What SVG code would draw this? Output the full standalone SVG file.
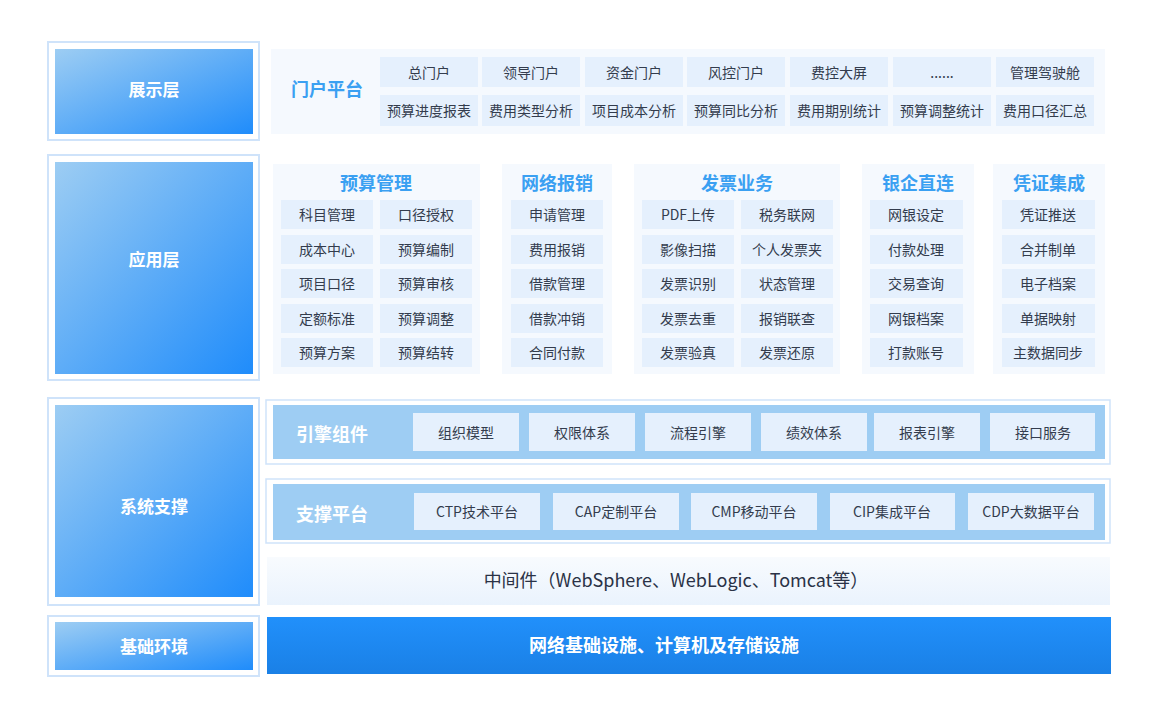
<svg xmlns="http://www.w3.org/2000/svg" width="1162" height="720" viewBox="0 0 1162 720">
<style>
text{font-family:"Noto Sans CJK SC","Noto Sans",sans-serif;text-anchor:middle;dominant-baseline:central}
.frame{fill:#fff;stroke:#cfe3fa;stroke-width:2}
.lbl{fill:url(#lg)}
.lt{fill:#fff;font-size:17px;font-weight:bold}
.panel{fill:#f5f9fe}
.c{fill:#e5f0fd}
.ct{fill:#333c4d;font-size:14px}
.h{fill:#3aa0f2;font-size:18px;font-weight:bold}
.band{fill:#9ecdf3}
.bt{fill:#fff;font-size:18px;font-weight:bold}
.oframe{fill:#fff;stroke:#cfe3fa;stroke-width:1.5}
</style>
<defs>
<linearGradient id="lg" x1="0" y1="0" x2="1" y2="1"><stop offset="0" stop-color="#9dcdf3"/><stop offset="1" stop-color="#1f8cfb"/></linearGradient>
<linearGradient id="mid" x1="0" y1="0" x2="0" y2="1"><stop offset="0" stop-color="#f8fbfe"/><stop offset="1" stop-color="#eaf3fd"/></linearGradient>
<linearGradient id="inf" x1="0" y1="0" x2="0" y2="1"><stop offset="0" stop-color="#2190fb"/><stop offset="1" stop-color="#1a80e6"/></linearGradient>
</defs>
<rect width="1162" height="720" fill="#fff"/>
<g id="layer-labels">
<rect class="frame" x="48" y="42" width="211" height="98"/><rect class="lbl" x="55" y="49" width="198" height="85"/><text class="lt" x="154" y="88">展示层</text>
<rect class="frame" x="48" y="155" width="211" height="225"/><rect class="lbl" x="55" y="162" width="198" height="212"/><text class="lt" x="154" y="258">应用层</text>
<rect class="frame" x="48" y="398" width="211" height="207"/><rect class="lbl" x="55" y="405" width="198" height="192"/><text class="lt" x="154" y="505">系统支撑</text>
<rect class="frame" x="48" y="616" width="211" height="60"/><rect class="lbl" x="55" y="622" width="198" height="48"/><text class="lt" x="154" y="645">基础环境</text>
</g>
<g id="portal">
<rect class="panel" x="271" y="49" width="834" height="85"/>
<text class="h" x="327" y="88">门户平台</text>
<g>
<rect class="c" x="380" y="57" width="98" height="30"/><text class="ct" x="429" y="72">总门户</text>
<rect class="c" x="482" y="57" width="98" height="30"/><text class="ct" x="531" y="72">领导门户</text>
<rect class="c" x="585" y="57" width="98" height="30"/><text class="ct" x="634" y="72">资金门户</text>
<rect class="c" x="687" y="57" width="98" height="30"/><text class="ct" x="736" y="72">风控门户</text>
<rect class="c" x="790" y="57" width="98" height="30"/><text class="ct" x="839" y="72">费控大屏</text>
<rect class="c" x="893" y="57" width="98" height="30"/><text class="ct" x="942" y="72">......</text>
<rect class="c" x="996" y="57" width="98" height="30"/><text class="ct" x="1045" y="72">管理驾驶舱</text>
<rect class="c" x="380" y="95" width="98" height="31"/><text class="ct" x="429" y="110">预算进度报表</text>
<rect class="c" x="482" y="95" width="98" height="31"/><text class="ct" x="531" y="110">费用类型分析</text>
<rect class="c" x="585" y="95" width="98" height="31"/><text class="ct" x="634" y="110">项目成本分析</text>
<rect class="c" x="687" y="95" width="98" height="31"/><text class="ct" x="736" y="110">预算同比分析</text>
<rect class="c" x="790" y="95" width="98" height="31"/><text class="ct" x="839" y="110">费用期别统计</text>
<rect class="c" x="893" y="95" width="98" height="31"/><text class="ct" x="942" y="110">预算调整统计</text>
<rect class="c" x="996" y="95" width="98" height="31"/><text class="ct" x="1045" y="110">费用口径汇总</text>
</g>
</g>
<g id="budget">
<rect class="panel" x="273" y="164" width="207" height="210"/>
<text class="h" x="376" y="182">预算管理</text>
<rect class="c" x="281" y="200" width="92" height="29"/><text class="ct" x="327" y="214">科目管理</text>
<rect class="c" x="380" y="200" width="92" height="29"/><text class="ct" x="426" y="214">口径授权</text>
<rect class="c" x="281" y="235" width="92" height="29"/><text class="ct" x="327" y="249">成本中心</text>
<rect class="c" x="380" y="235" width="92" height="29"/><text class="ct" x="426" y="249">预算编制</text>
<rect class="c" x="281" y="269" width="92" height="29"/><text class="ct" x="327" y="283">项目口径</text>
<rect class="c" x="380" y="269" width="92" height="29"/><text class="ct" x="426" y="283">预算审核</text>
<rect class="c" x="281" y="304" width="92" height="29"/><text class="ct" x="327" y="318">定额标准</text>
<rect class="c" x="380" y="304" width="92" height="29"/><text class="ct" x="426" y="318">预算调整</text>
<rect class="c" x="281" y="338" width="92" height="29"/><text class="ct" x="327" y="352">预算方案</text>
<rect class="c" x="380" y="338" width="92" height="29"/><text class="ct" x="426" y="352">预算结转</text>
</g>
<g id="reimburse">
<rect class="panel" x="502" y="164" width="110" height="210"/>
<text class="h" x="557" y="182">网络报销</text>
<rect class="c" x="511" y="200" width="92" height="29"/><text class="ct" x="557" y="214">申请管理</text>
<rect class="c" x="511" y="235" width="92" height="29"/><text class="ct" x="557" y="249">费用报销</text>
<rect class="c" x="511" y="269" width="92" height="29"/><text class="ct" x="557" y="283">借款管理</text>
<rect class="c" x="511" y="304" width="92" height="29"/><text class="ct" x="557" y="318">借款冲销</text>
<rect class="c" x="511" y="338" width="92" height="29"/><text class="ct" x="557" y="352">合同付款</text>
</g>
<g id="invoice">
<rect class="panel" x="634" y="164" width="206" height="210"/>
<text class="h" x="737" y="182">发票业务</text>
<rect class="c" x="642" y="200" width="92" height="29"/><text class="ct" x="688" y="214">PDF上传</text>
<rect class="c" x="741" y="200" width="92" height="29"/><text class="ct" x="787" y="214">税务联网</text>
<rect class="c" x="642" y="235" width="92" height="29"/><text class="ct" x="688" y="249">影像扫描</text>
<rect class="c" x="741" y="235" width="92" height="29"/><text class="ct" x="787" y="249">个人发票夹</text>
<rect class="c" x="642" y="269" width="92" height="29"/><text class="ct" x="688" y="283">发票识别</text>
<rect class="c" x="741" y="269" width="92" height="29"/><text class="ct" x="787" y="283">状态管理</text>
<rect class="c" x="642" y="304" width="92" height="29"/><text class="ct" x="688" y="318">发票去重</text>
<rect class="c" x="741" y="304" width="92" height="29"/><text class="ct" x="787" y="318">报销联查</text>
<rect class="c" x="642" y="338" width="92" height="29"/><text class="ct" x="688" y="352">发票验真</text>
<rect class="c" x="741" y="338" width="92" height="29"/><text class="ct" x="787" y="352">发票还原</text>
</g>
<g id="bank">
<rect class="panel" x="862" y="164" width="112" height="210"/>
<text class="h" x="918" y="182">银企直连</text>
<rect class="c" x="870" y="200" width="93" height="29"/><text class="ct" x="916" y="214">网银设定</text>
<rect class="c" x="870" y="235" width="93" height="29"/><text class="ct" x="916" y="249">付款处理</text>
<rect class="c" x="870" y="269" width="93" height="29"/><text class="ct" x="916" y="283">交易查询</text>
<rect class="c" x="870" y="304" width="93" height="29"/><text class="ct" x="916" y="318">网银档案</text>
<rect class="c" x="870" y="338" width="93" height="29"/><text class="ct" x="916" y="352">打款账号</text>
</g>
<g id="voucher">
<rect class="panel" x="993" y="164" width="112" height="210"/>
<text class="h" x="1049" y="182">凭证集成</text>
<rect class="c" x="1002" y="200" width="93" height="29"/><text class="ct" x="1048" y="214">凭证推送</text>
<rect class="c" x="1002" y="235" width="93" height="29"/><text class="ct" x="1048" y="249">合并制单</text>
<rect class="c" x="1002" y="269" width="93" height="29"/><text class="ct" x="1048" y="283">电子档案</text>
<rect class="c" x="1002" y="304" width="93" height="29"/><text class="ct" x="1048" y="318">单据映射</text>
<rect class="c" x="1002" y="338" width="93" height="29"/><text class="ct" x="1048" y="352">主数据同步</text>
</g>
<g id="engine">
<rect class="oframe" x="266" y="400" width="844" height="64"/>
<rect class="band" x="273" y="405" width="832" height="54"/>
<text class="bt" x="332" y="433">引擎组件</text>
<rect class="c" x="413" y="413" width="106" height="38"/><text class="ct" x="466" y="432">组织模型</text>
<rect class="c" x="529" y="413" width="106" height="38"/><text class="ct" x="582" y="432">权限体系</text>
<rect class="c" x="645" y="413" width="106" height="38"/><text class="ct" x="698" y="432">流程引擎</text>
<rect class="c" x="761" y="413" width="106" height="38"/><text class="ct" x="814" y="432">绩效体系</text>
<rect class="c" x="874" y="413" width="106" height="38"/><text class="ct" x="927" y="432">报表引擎</text>
<rect class="c" x="990" y="413" width="105" height="38"/><text class="ct" x="1043" y="432">接口服务</text>
</g>
<g id="support">
<rect class="oframe" x="266" y="479" width="844" height="64"/>
<rect class="band" x="273" y="484" width="832" height="56"/>
<text class="bt" x="332" y="513">支撑平台</text>
<rect class="c" x="414" y="493" width="126" height="37"/><text class="ct" x="477" y="511">CTP技术平台</text>
<rect class="c" x="553" y="493" width="126" height="37"/><text class="ct" x="616" y="511">CAP定制平台</text>
<rect class="c" x="691" y="493" width="126" height="37"/><text class="ct" x="754" y="511">CMP移动平台</text>
<rect class="c" x="830" y="493" width="125" height="37"/><text class="ct" x="892" y="511">CIP集成平台</text>
<rect class="c" x="968" y="493" width="126" height="37"/><text class="ct" x="1031" y="511">CDP大数据平台</text>
</g>
<g id="middleware">
<rect x="267" y="557" width="843" height="48" fill="url(#mid)"/>
<text x="676" y="579" fill="#2a3246" font-size="18">中间件（WebSphere、WebLogic、Tomcat等）</text>
</g>
<g id="infra">
<rect x="267" y="617" width="844" height="57" fill="url(#inf)"/>
<text x="664" y="644" fill="#fff" font-size="18" font-weight="bold">网络基础设施、计算机及存储设施</text>
</g>
<g id="connectors"/>
</svg>
